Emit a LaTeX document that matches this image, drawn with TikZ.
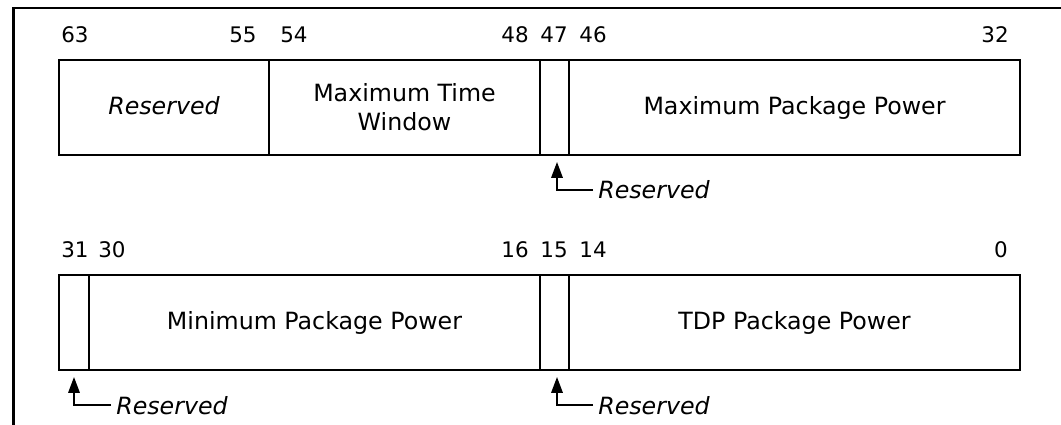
\documentclass[tikz,border=0pt]{standalone}
\usepackage{fontspec}
\setmainfont{DejaVu Sans}
\usetikzlibrary{arrows.meta}

\begin{document}
\begin{tikzpicture}[x=0.02cm, y=-0.02cm,
  field/.style={line width=1pt},
  frame/.style={line width=1.5pt},
  bitnum/.style={anchor=base, inner sep=0pt, font=\fontsize{12.2}{14}\selectfont},
  fieldtext/.style={inner sep=0pt, align=center, font=\fontsize{13.5}{16.4}\selectfont},
  callout/.style={anchor=base west, inner xsep=2.8pt, inner ysep=0pt, font=\fontsize{13.5}{16.4}\selectfont\itshape},
  rsvarrow/.style={line width=1pt, -{Triangle[length=9pt, width=6.5pt]}}]
\useasboundingbox (0,0) rectangle (1061,425);
\draw[frame] (1061,8) -- (13.5,8) -- (13.5,425);
% bits 63..32
\begin{scope}[shift={(0,0)}]
\node[bitnum] (b63) at (75,43) {63};
\node[bitnum] (b55) at (243,43) {55};
\node[bitnum] (b54) at (294,43) {54};
\node[bitnum] (b48) at (515,43) {48};
\node[bitnum] (b47) at (554,43) {47};
\node[bitnum] (b46) at (593,43) {46};
\node[bitnum] (b32) at (995,43) {32};
\draw[field] (59,60) rectangle (269,155);
\draw[field] (269,60) rectangle (540,155);
\draw[field] (540,60) rectangle (569,155);
\draw[field] (569,60) rectangle (1020,155);
\node[fieldtext, anchor=base] (rsvhigh) at (164,115) {\itshape Reserved};
\node[fieldtext] (maxtime) at (404.5,107.5) {Maximum Time\\Window};
\node[fieldtext, anchor=base] (maxpwr) at (794.5,115) {Maximum Package Power};
\coordinate (tip47) at (557,162);
\node[callout] (rsv47) at (593,199) {Reserved};
\draw[rsvarrow] (rsv47.west) -| (tip47);
\end{scope}
% bits 31..0
\begin{scope}[shift={(0,215)}]
\node[bitnum] (b31) at (75,43) {31};
\node[bitnum] (b30) at (112,43) {30};
\node[bitnum] (b16) at (515,43) {16};
\node[bitnum] (b15) at (554,43) {15};
\node[bitnum] (b14) at (593,43) {14};
\node[bitnum] (b0) at (1001,43) {0};
\draw[field] (59,60) rectangle (89,155);
\draw[field] (89,60) rectangle (540,155);
\draw[field] (540,60) rectangle (569,155);
\draw[field] (569,60) rectangle (1020,155);
\node[fieldtext, anchor=base] (minpwr) at (314.5,115) {Minimum Package Power};
\node[fieldtext, anchor=base] (tdppwr) at (794.5,115) {TDP Package Power};
\coordinate (tip31) at (74,162);
\node[callout] (rsv31) at (111,199) {Reserved};
\draw[rsvarrow] (rsv31.west) -| (tip31);
\coordinate (tip15) at (557,162);
\node[callout] (rsv15) at (593,199) {Reserved};
\draw[rsvarrow] (rsv15.west) -| (tip15);
\end{scope}
\end{tikzpicture}
\end{document}
